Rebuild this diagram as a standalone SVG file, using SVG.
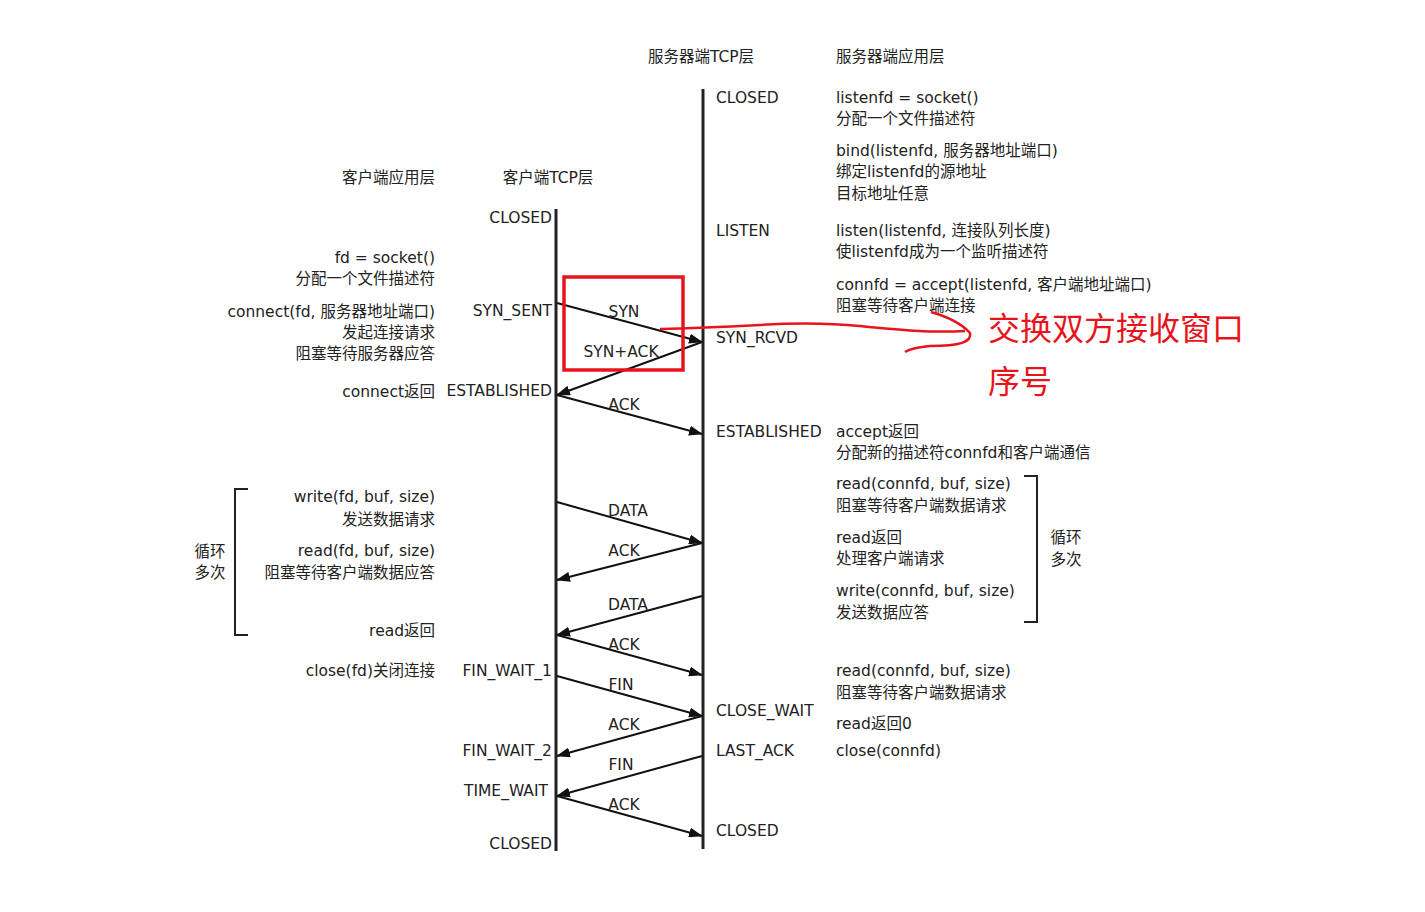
<svg xmlns="http://www.w3.org/2000/svg" width="1425" height="912" viewBox="0 0 1425 912">
<style>
text{font-family:"DejaVu Sans","Noto Sans CJK SC",sans-serif;font-size:15.5px;fill:#222}
.r{text-anchor:end}
.m{text-anchor:middle}
.life{stroke:#222;stroke-width:3;fill:none}
.msg{stroke:#111;stroke-width:2;fill:none;marker-end:url(#ah)}
.br{stroke:#222;stroke-width:2;fill:none}
.red{stroke:#e8141c;fill:none}
.rt{font-family:"Noto Sans CJK SC",sans-serif;font-size:32px;fill:#e8141c}
</style>
<defs>
<marker id="ah" markerUnits="userSpaceOnUse" markerWidth="14" markerHeight="10" refX="13" refY="5" orient="auto">
<path d="M0,0 L14,5 L0,10 z" fill="#111"/>
</marker>
</defs>
<rect width="1425" height="912" fill="#fff"/>

<g id="headers">
<text x="701" y="62" class="m">服务器端TCP层</text>
<text x="836" y="62">服务器端应用层</text>
<text x="435" y="183" class="r">客户端应用层</text>
<text x="548" y="183" class="m">客户端TCP层</text>
</g>

<g id="client-lifeline"><line class="life" x1="556" y1="209" x2="556" y2="851"/></g>
<g id="server-lifeline"><line class="life" x1="703" y1="89" x2="703" y2="849"/></g>

<g id="client-states">
<text x="552" y="223" class="r">CLOSED</text>
<text x="552" y="316" class="r">SYN_SENT</text>
<text x="552" y="396" class="r">ESTABLISHED</text>
<text x="552" y="676" class="r">FIN_WAIT_1</text>
<text x="552" y="756" class="r">FIN_WAIT_2</text>
<text x="548" y="796" class="r">TIME_WAIT</text>
<text x="552" y="849" class="r">CLOSED</text>
</g>

<g id="server-states">
<text x="716" y="103">CLOSED</text>
<text x="716" y="236">LISTEN</text>
<text x="716" y="343">SYN_RCVD</text>
<text x="716" y="437">ESTABLISHED</text>
<text x="716" y="716">CLOSE_WAIT</text>
<text x="716" y="756">LAST_ACK</text>
<text x="716" y="836">CLOSED</text>
</g>

<g id="client-app">
<text x="435" y="263" class="r">fd = socket()</text>
<text x="435" y="284" class="r">分配一个文件描述符</text>
<text x="435" y="317" class="r">connect(fd, 服务器地址端口)</text>
<text x="435" y="338" class="r">发起连接请求</text>
<text x="435" y="359" class="r">阻塞等待服务器应答</text>
<text x="435" y="397" class="r">connect返回</text>
<text x="435" y="502" class="r">write(fd, buf, size)</text>
<text x="435" y="525" class="r">发送数据请求</text>
<text x="435" y="556" class="r">read(fd, buf, size)</text>
<text x="435" y="578" class="r">阻塞等待客户端数据应答</text>
<text x="435" y="636" class="r">read返回</text>
<text x="435" y="676" class="r">close(fd)关闭连接</text>
</g>

<g id="client-loop">
<path class="br" d="M248,489 H235 V635 H248"/>
<text x="210" y="557" class="m">循环</text>
<text x="210" y="578" class="m">多次</text>
</g>

<g id="server-app">
<text x="836" y="103">listenfd = socket()</text>
<text x="836" y="124">分配一个文件描述符</text>
<text x="836" y="156">bind(listenfd, 服务器地址端口)</text>
<text x="836" y="177">绑定listenfd的源地址</text>
<text x="836" y="199">目标地址任意</text>
<text x="836" y="236">listen(listenfd, 连接队列长度)</text>
<text x="836" y="257">使listenfd成为一个监听描述符</text>
<text x="836" y="290">connfd = accept(listenfd, 客户端地址端口)</text>
<text x="836" y="311">阻塞等待客户端连接</text>
<text x="836" y="437">accept返回</text>
<text x="836" y="458">分配新的描述符connfd和客户端通信</text>
<text x="836" y="489">read(connfd, buf, size)</text>
<text x="836" y="511">阻塞等待客户端数据请求</text>
<text x="836" y="543">read返回</text>
<text x="836" y="564">处理客户端请求</text>
<text x="836" y="596">write(connfd, buf, size)</text>
<text x="836" y="618">发送数据应答</text>
<text x="836" y="676">read(connfd, buf, size)</text>
<text x="836" y="698">阻塞等待客户端数据请求</text>
<text x="836" y="729">read返回0</text>
<text x="836" y="756">close(connfd)</text>
</g>

<g id="server-loop">
<path class="br" d="M1024,476 H1037 V622 H1024"/>
<text x="1066" y="543" class="m">循环</text>
<text x="1066" y="565" class="m">多次</text>
</g>

<g id="connectors">
<line class="msg" x1="557" y1="303" x2="702" y2="342"/>
<line class="msg" x1="702" y1="342" x2="557" y2="395"/>
<line class="msg" x1="557" y1="395" x2="702" y2="434"/>
<line class="msg" x1="557" y1="502" x2="702" y2="543"/>
<line class="msg" x1="702" y1="543" x2="557" y2="580"/>
<line class="msg" x1="702" y1="596" x2="557" y2="635"/>
<line class="msg" x1="557" y1="635" x2="702" y2="675"/>
<line class="msg" x1="557" y1="676" x2="702" y2="716"/>
<line class="msg" x1="702" y1="716" x2="557" y2="756"/>
<line class="msg" x1="702" y1="756" x2="557" y2="796"/>
<line class="msg" x1="557" y1="796" x2="702" y2="836"/>
</g>

<g id="message-labels">
<text x="624" y="317" class="m">SYN</text>
<text x="621" y="357" class="m">SYN+ACK</text>
<text x="624" y="410" class="m">ACK</text>
<text x="628" y="516" class="m">DATA</text>
<text x="624" y="556" class="m">ACK</text>
<text x="628" y="610" class="m">DATA</text>
<text x="624" y="650" class="m">ACK</text>
<text x="621" y="690" class="m">FIN</text>
<text x="624" y="730" class="m">ACK</text>
<text x="621" y="770" class="m">FIN</text>
<text x="624" y="810" class="m">ACK</text>
</g>

<g id="annotation">
<rect class="red" x="564" y="277" width="119" height="93" stroke-width="3.5"/>
<path class="red" stroke-width="2.5" d="M660,329 C700,328 740,326 760,325 C790,323 830,323 860,326 C900,330 930,333 965,331"/>
<path class="red" stroke-width="2.5" d="M931,312 C945,316 960,322 970,333 C972,342 960,346 930,346 C918,347 910,349 905,352"/>
<text class="rt" x="988" y="340">交换双方接收窗口</text>
<text class="rt" x="988" y="393">序号</text>
</g>
</svg>
